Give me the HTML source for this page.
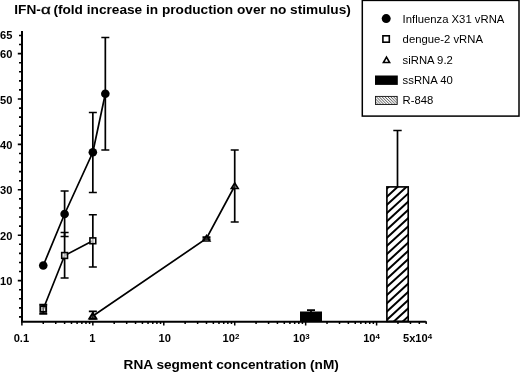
<!DOCTYPE html>
<html><head><meta charset="utf-8"><title>IFN-alpha chart</title>
<style>
html,body{margin:0;padding:0;background:#fff;}
body{width:520px;height:372px;overflow:hidden;}
svg{display:block;will-change:transform;}
text{font-family:"Liberation Sans",sans-serif;fill:#000;}
.b{font-weight:bold;}
.tk{font-weight:bold;font-size:11.1px;}
.lg{font-size:11.3px;}
</style></head><body>
<svg width="520" height="372" viewBox="0 0 520 372">
<defs>
<pattern id="hatch2" patternUnits="userSpaceOnUse" width="2.86" height="2.86" x="375.6" y="96">
<path d="M-1,-1 L3.86,3.86 M-1,1.86 L1,3.86 M1.86,-1 L3.86,1" stroke="#000" stroke-width="0.72" fill="none"/>
</pattern>
</defs>
<rect x="0" y="0" width="520" height="372" fill="#fff"/>

<text class="b" x="14.3" y="13.75" font-size="13.67">IFN-</text>
<text transform="translate(40.9,13.75) scale(1.3,1)" font-size="13" stroke="#000" stroke-width="0.3">α</text>
<text class="b" x="53.4" y="13.75" font-size="13.67">(fold increase in production over no stimulus)</text>
<text class="b" x="123.6" y="369" font-size="13.64">RNA segment concentration (nM)</text>
<g stroke="#000" fill="none">
<path d="M22,31 V322" stroke-width="2"/>
<path d="M21,321.65 H425.9" stroke-width="2"/>
<path d="M19,316.92 H21.5 M19,307.84 H21.5 M19,298.76 H21.5 M19,289.68 H21.5 M17.8,280.60 H21.5 M19,271.52 H21.5 M19,262.44 H21.5 M19,253.36 H21.5 M19,244.28 H21.5 M17.8,235.20 H21.5 M19,226.12 H21.5 M19,217.04 H21.5 M19,207.96 H21.5 M19,198.88 H21.5 M17.8,189.80 H21.5 M19,180.72 H21.5 M19,171.64 H21.5 M19,162.56 H21.5 M19,153.48 H21.5 M17.8,144.40 H21.5 M19,135.32 H21.5 M19,126.24 H21.5 M19,117.16 H21.5 M19,108.08 H21.5 M17.8,99.00 H21.5 M19,89.92 H21.5 M19,80.84 H21.5 M19,71.76 H21.5 M19,62.68 H21.5 M17.8,53.60 H21.5 M19,44.52 H21.5 M19,35.44 H21.5" stroke-width="1.6"/>
<path d="M21.90,321.3 V325.4 M43.26,321.3 V324.0 M55.75,321.3 V324.0 M64.61,321.3 V324.0 M71.48,321.3 V324.0 M77.10,321.3 V324.0 M81.85,321.3 V324.0 M85.97,321.3 V324.0 M89.59,321.3 V324.0 M92.84,321.3 V325.4 M114.20,321.3 V324.0 M126.69,321.3 V324.0 M135.55,321.3 V324.0 M142.42,321.3 V324.0 M148.04,321.3 V324.0 M152.79,321.3 V324.0 M156.91,321.3 V324.0 M160.53,321.3 V324.0 M163.78,321.3 V325.4 M185.14,321.3 V324.0 M197.63,321.3 V324.0 M206.49,321.3 V324.0 M213.36,321.3 V324.0 M218.98,321.3 V324.0 M223.73,321.3 V324.0 M227.85,321.3 V324.0 M231.47,321.3 V324.0 M234.72,321.3 V325.4 M256.08,321.3 V324.0 M268.57,321.3 V324.0 M277.43,321.3 V324.0 M284.30,321.3 V324.0 M289.92,321.3 V324.0 M294.67,321.3 V324.0 M298.79,321.3 V324.0 M302.41,321.3 V324.0 M305.66,321.3 V325.4 M327.02,321.3 V324.0 M339.51,321.3 V324.0 M348.37,321.3 V324.0 M355.24,321.3 V324.0 M360.86,321.3 V324.0 M365.61,321.3 V324.0 M369.73,321.3 V324.0 M373.35,321.3 V324.0 M376.60,321.3 V325.4 M397.96,321.3 V324.0 M410.45,321.3 V324.0 M419.31,321.3 V324.0 M426.18,321.3 V324.0" stroke-width="1.5"/>
</g>
<text class="tk" x="12.3" y="38.90" text-anchor="end">65</text>
<text class="tk" x="12.3" y="58.10" text-anchor="end">60</text>
<text class="tk" x="12.3" y="103.50" text-anchor="end">50</text>
<text class="tk" x="12.3" y="148.90" text-anchor="end">40</text>
<text class="tk" x="12.3" y="194.30" text-anchor="end">30</text>
<text class="tk" x="12.3" y="239.70" text-anchor="end">20</text>
<text class="tk" x="12.3" y="285.10" text-anchor="end">10</text>
<text class="tk" x="21.4" y="342.3" text-anchor="middle">0.1</text>
<text class="tk" x="92.3" y="342.3" text-anchor="middle">1</text>
<text class="tk" x="164.7" y="342.3" text-anchor="middle">10</text>
<text class="tk" x="222.6" y="342.3">10<tspan dy="-3.4" font-size="7.9">2</tspan></text>
<text class="tk" x="293.0" y="342.3">10<tspan dy="-3.4" font-size="7.9">3</tspan></text>
<text class="tk" x="363.2" y="342.3">10<tspan dy="-3.4" font-size="7.9">4</tspan></text>
<text class="tk" x="403.0" y="342.3">5x10<tspan dy="-3.4" font-size="7.9">4</tspan></text>
<g stroke="#000" stroke-width="1.7" fill="none">
<rect x="300" y="311.5" width="22" height="10" fill="#000" stroke="none"/>
<path d="M311.00,310.10 V312.00 M307.00,310.10 H315.00"/>
<clipPath id="bc"><rect x="386.9" y="186.9" width="21.3" height="134.5"/></clipPath>
<path clip-path="url(#bc)" d="M384.9,182.13 L410.2,158.86 M384.9,190.33 L410.2,167.06 M384.9,198.53 L410.2,175.26 M384.9,206.73 L410.2,183.46 M384.9,214.93 L410.2,191.66 M384.9,223.13 L410.2,199.86 M384.9,231.33 L410.2,208.06 M384.9,239.53 L410.2,216.26 M384.9,247.73 L410.2,224.46 M384.9,255.93 L410.2,232.66 M384.9,264.13 L410.2,240.86 M384.9,272.33 L410.2,249.06 M384.9,280.53 L410.2,257.26 M384.9,288.73 L410.2,265.46 M384.9,296.93 L410.2,273.66 M384.9,305.13 L410.2,281.86 M384.9,313.33 L410.2,290.06 M384.9,321.53 L410.2,298.26 M384.9,329.73 L410.2,306.46 M384.9,337.93 L410.2,314.66 M384.9,346.13 L410.2,322.86" stroke-width="2.0"/>
<rect x="386.9" y="186.9" width="21.3" height="134.5" fill="none" stroke-width="1.65"/>
<path d="M397.50,130.50 V187.00 M393.30,130.50 H401.70"/>
<path d="M64.61,191.00 V236.50 M60.61,191.00 H68.61 M60.61,236.50 H68.61 M92.84,112.50 V192.50 M88.84,112.50 H96.84 M88.84,192.50 H96.84 M105.33,37.50 V150.00 M101.33,37.50 H109.33 M101.33,150.00 H109.33"/>
<path d="M43.26,265.50 L64.61,214.00 L92.84,152.25 L105.33,93.75"/>
<path d="M43.26,304.70 V313.90 M39.26,304.70 H47.26 M39.26,313.90 H47.26 M64.61,232.50 V278.00 M60.61,232.50 H68.61 M60.61,278.00 H68.61 M92.84,214.75 V267.00 M88.84,214.75 H96.84 M88.84,267.00 H96.84"/>
<path d="M43.26,309.00 L64.61,255.50 L92.84,240.80"/>
<path d="M92.84,311.30 V319.00 M88.84,311.30 H96.84 M88.84,319.00 H96.84 M206.49,237.20 V239.20 M202.49,237.20 H210.49 M202.49,239.20 H210.49 M234.72,150.00 V222.00 M230.72,150.00 H238.72 M230.72,222.00 H238.72"/>
<path d="M92.84,316.00 L206.49,238.50 L234.72,186.00"/>
</g>
<circle cx="43.26" cy="265.50" r="4.3" fill="#000"/>
<circle cx="64.61" cy="214.00" r="4.3" fill="#000"/>
<circle cx="92.84" cy="152.25" r="4.3" fill="#000"/>
<circle cx="105.33" cy="93.75" r="4.3" fill="#000"/>
<rect x="40.36" y="306.10" width="5.8" height="5.8" fill="#fff" fill-opacity="0.35" stroke="#000" stroke-width="1.9"/>
<rect x="61.71" y="252.60" width="5.8" height="5.8" fill="#fff" fill-opacity="0.7" stroke="#000" stroke-width="1.6"/>
<rect x="89.94" y="237.90" width="5.8" height="5.8" fill="#fff" fill-opacity="0.7" stroke="#000" stroke-width="1.6"/>
<path d="M92.84,313.00 L96.24,318.50 H89.44 Z" fill="#fff" fill-opacity="0.15" stroke="#000" stroke-width="2.0" stroke-linejoin="miter"/>
<path d="M206.49,235.50 L209.89,241.00 H203.09 Z" fill="#fff" fill-opacity="0.15" stroke="#000" stroke-width="1.65" stroke-linejoin="miter"/>
<path d="M234.72,183.00 L238.12,188.50 H231.32 Z" fill="#fff" fill-opacity="0.15" stroke="#000" stroke-width="1.65" stroke-linejoin="miter"/>
<rect x="362.3" y="0.4" width="156.7" height="115.7" fill="#fff" stroke="#000" stroke-width="1.5"/>
<circle cx="386.2" cy="18.6" r="4.5" fill="#000"/>
<rect x="382.9" y="35.8" width="6.4" height="6.4" fill="#fff" stroke="#000" stroke-width="1.6"/>
<path d="M386.50,57.10 L389.60,62.50 H383.40 Z" fill="#fff" fill-opacity="1" stroke="#000" stroke-width="1.6" stroke-linejoin="miter"/>
<rect x="375" y="75.5" width="22.8" height="9.4" fill="#000"/>
<rect x="375.5" y="96.4" width="21.7" height="8.1" fill="url(#hatch2)" stroke="#111" stroke-width="0.9"/>
<text class="lg" x="402.6" y="22.8">Influenza X31 vRNA</text>
<text class="lg" x="402.6" y="43.4">dengue-2 vRNA</text>
<text class="lg" x="402.6" y="64">siRNA 9.2</text>
<text class="lg" x="402.6" y="84">ssRNA 40</text>
<text class="lg" x="402.6" y="104.4">R-848</text>
</svg></body></html>
